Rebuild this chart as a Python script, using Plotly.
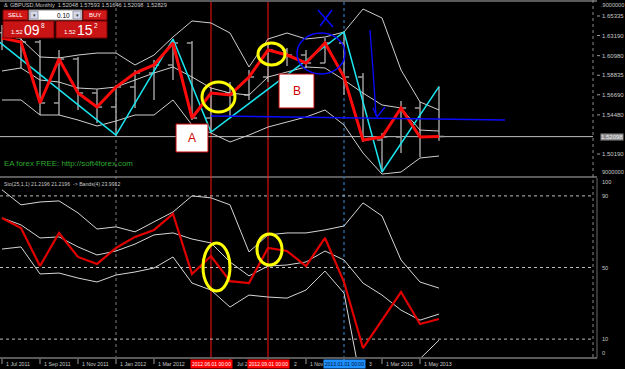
import plotly.graph_objects as go

W, H = 625, 369
def PX(x): return x / W
def PY(y): return 1 - y / H

# ---------------- data ----------------
months = ["Jul 2011", "Aug 2011", "Sep 2011", "Oct 2011", "Nov 2011", "Dec 2011",
          "Jan 2012", "Feb 2012", "Mar 2012", "Apr 2012", "May 2012", "Jun 2012",
          "Jul 2012", "Aug 2012", "Sep 2012", "Oct 2012", "Nov 2012", "Dec 2012",
          "Jan 2013", "Feb 2013", "Mar 2013", "Apr 2013", "May 2013", "Jun 2013"]
idx = list(range(len(months)))

bar_open = [1.6350, 1.6292, 1.6248, 1.5579, 1.6062, 1.5688, 1.5535, 1.5754, 1.5908, 1.5996,
            1.6237, 1.5414, 1.5688, 1.5666, 1.5864, 1.6160, 1.6105, 1.6018, 1.6237, 1.5864,
            1.5172, 1.5205, 1.5524, 1.52048]
bar_high = [1.6435, 1.6314, 1.6270, 1.6160, 1.6084, 1.5730, 1.5776, 1.5941, 1.6051, 1.6281,
            1.6259, 1.5743, 1.5809, 1.5941, 1.6215, 1.6182, 1.6160, 1.6292, 1.6358, 1.5908,
            1.5249, 1.5601, 1.5590, 1.57593]
bar_low = [1.6160, 1.5963, 1.5447, 1.5447, 1.5502, 1.5359, 1.5227, 1.5524, 1.5612, 1.5831,
           1.5392, 1.5260, 1.5425, 1.5612, 1.5809, 1.5985, 1.5963, 1.6018, 1.5666, 1.5150,
           1.4821, 1.5030, 1.4986, 1.51646]
bar_close = [1.6292, 1.6248, 1.5579, 1.6062, 1.5688, 1.5535, 1.5754, 1.5908, 1.5996, 1.6237,
             1.5414, 1.5688, 1.5666, 1.5864, 1.6160, 1.6105, 1.6018, 1.6237, 1.5864, 1.5172,
             1.5205, 1.5524, 1.52048, 1.52098]

band_up = [1.6402, 1.6281, 1.6084, 1.6073, 1.6105, 1.6127, 1.6127, 1.5996, 1.6105, 1.6303,
           1.6479, 1.6457, 1.6347, 1.5974, 1.6281, 1.6347, 1.6281, 1.6303, 1.6358, 1.6610,
           1.6512, 1.5941, 1.5590, 1.5502]
band_mid = [1.5930, 1.5963, 1.5831, 1.5809, 1.5743, 1.5732, 1.5754, 1.5831, 1.5908, 1.5974,
            1.5864, 1.5743, 1.5688, 1.5666, 1.5864, 1.5919, 1.5974, 1.5963, 1.5831, 1.5688,
            1.5557, 1.5524, 1.5282, 1.5271]
band_low = [1.5612, 1.5612, 1.5447, 1.5447, 1.5392, 1.5326, 1.5381, 1.5447, 1.5447, 1.5612,
            1.5337, 1.5249, 1.5151, 1.5227, 1.5315, 1.5370, 1.5425, 1.5502, 1.5337, 1.5030,
            1.4799, 1.4821, 1.4975, 1.4997]

zz_idx = [-1, 6, 9, 11, 18, 20, 23]
zz_val = [1.6391, 1.5227, 1.6281, 1.5260, 1.6358, 1.4821, 1.57593]

sto = [77.7, 72.1, 50.8, 69.3, 55.9, 52.0, 60.9, 67.1, 71.0, 79.9, 46.4, 56.4,
       42.4, 41.3, 60.9, 59.2, 50.8, 66.5, 41.9, 5.0, 20.6, 36.3, 18.4, 21.2196]
sto_up = [93.4, 85.0, 86.6, 87.2, 80.5, 71.5, 72.7, 69.9, 75.5, 81.0, 90.0, 88.9,
          85.0, 58.7, 68.2, 69.3, 69.3, 71.0, 73.2, 86.1, 78.8, 54.2, 41.9, 38.5]
sto_mid = [77.7, 73.8, 66.5, 67.1, 61.5, 57.0, 59.2, 63.1, 68.2, 69.3, 65.9, 63.7,
           53.1, 45.3, 50.8, 51.4, 53.1, 59.2, 54.2, 41.3, 34.6, 26.2, 20.6, 23.9912]
sto_low = [60.3, 61.5, 46.4, 46.9, 44.1, 41.9, 45.8, 47.5, 49.7, 55.9, 41.3, 37.4,
           27.9, 34.6, 33.5, 32.9, 37.4, 48.0, 35.7, -20.0, -15.0, -8.0, -1.0, 9.4]

price_labels = ["1.65335", "1.63190", "1.60980", "1.58835", "1.56690", "1.54480", "1.50190"]
price_ticks = [1.65335, 1.63190, 1.60980, 1.58835, 1.56690, 1.54480, 1.50190]
current_price = 1.52098
sto_levels = [90, 50, 10]
sto_labels = ["100", "90", "50", "10", "0"]
sto_label_vals = [100, 90, 50, 10, 0]

# date labels: fully visible ones, then the visible fragments of partly covered ones
date_tick_idx = [0, 2, 4, 6, 8, 12, 14, 16, 18, 20, 22]
date_full_idx = [0, 2, 4, 6, 8, 20, 22]
date_full_text = ["1 Jul 2011", "1 Sep 2011", "1 Nov 2011", "1 Jan 2012", "1 Mar 2012",
                  "1 Mar 2013", "1 May 2013"]
date_frag_idx = [12, 14, 16, 18]
date_frag_text = ["Jul 2", "2", "1 Nov", "3"]
date_frag_dx = [5.5, 24.5, 3, 24]
vline_idx = [11, 14, 18]
vline_text = ["2012.06.01 00:00", "2012.09.01 00:00", "2013.01.01 00:00"]

# ---------------- geometry ----------------
X0PX, X1PX = 0, 596
def ix2px(i): return 2 + 19 * i
xr = [(X0PX - 2) / 19, (X1PX - 2) / 19]
P_TOP, P_SLOPE = 1.65335, 911.2  # price at y=16, px per unit
def p2px(p): return 16 + (P_TOP - p) * P_SLOPE
yr_up = [P_TOP - (176 - 16) / P_SLOPE, P_TOP + 16 / P_SLOPE]
def s2px(v): return 357 - v * 1.79

FONT = "Liberation Sans"
fig = go.Figure()

# upper panel
for arr in (band_up, band_mid, band_low):
    fig.add_trace(go.Scatter(x=idx, y=arr, mode="lines", line=dict(color="#cfcfcf", width=1),
                             xaxis="x", yaxis="y", hoverinfo="skip", showlegend=False))
fig.add_trace(go.Ohlc(x=idx, open=bar_open, high=bar_high, low=bar_low, close=bar_close,
                      increasing=dict(line=dict(color="#9c9c9c", width=1.5)),
                      decreasing=dict(line=dict(color="#9c9c9c", width=1.5)),
                      tickwidth=0.27, xaxis="x", yaxis="y", hoverinfo="skip", showlegend=False))
fig.add_trace(go.Scatter(x=zz_idx, y=zz_val, mode="lines", line=dict(color="#19e6f0", width=1.5),
                         xaxis="x", yaxis="y", hoverinfo="skip", showlegend=False))
fig.add_trace(go.Scatter(x=idx, y=bar_close, mode="lines", line=dict(color="#ff0a0a", width=3),
                         xaxis="x", yaxis="y", hoverinfo="skip", showlegend=False))

# lower panel
for arr in (sto_up, sto_mid, sto_low):
    fig.add_trace(go.Scatter(x=idx, y=arr, mode="lines", line=dict(color="#d6d6d6", width=1),
                             xaxis="x2", yaxis="y2", hoverinfo="skip", showlegend=False))
fig.add_trace(go.Scatter(x=idx, y=sto, mode="lines", line=dict(color="#e00000", width=2.2),
                         xaxis="x2", yaxis="y2", hoverinfo="skip", showlegend=False))

shapes = []
def line_px(x0, y0, x1, y1, color, width=1, dash="solid", layer="above"):
    shapes.append(dict(type="line", xref="paper", yref="paper", x0=PX(x0), y0=PY(y0),
                       x1=PX(x1), y1=PY(y1), line=dict(color=color, width=width, dash=dash), layer=layer))
def rect_px(x0, y0, x1, y1, fill, color, width=1, layer="above"):
    shapes.append(dict(type="rect", xref="paper", yref="paper", x0=PX(x0), y0=PY(y0),
                       x1=PX(x1), y1=PY(y1), fillcolor=fill, line=dict(color=color, width=width), layer=layer))
def ell_px(x0, y0, x1, y1, color, width):
    shapes.append(dict(type="circle", xref="paper", yref="paper", x0=PX(x0), y0=PY(y0),
                       x1=PX(x1), y1=PY(y1), line=dict(color=color, width=width), layer="above"))

# frame lines
line_px(0, 1, 597, 1, "#5a5a5a", 2, layer="below")
line_px(0, 177, 597, 177, "#5a5a5a", 2, layer="below")
line_px(0, 358, 597, 358, "#5a5a5a", 2, layer="below")
line_px(593, 0, 593, 358, "#8a8a8a", 1, "dot", layer="below")
line_px(597, 178, 597, 358, "#6a6a6a", 1, layer="below")

# period separator and vertical objects
line_px(ix2px(6), 2, ix2px(6), 357, "#7a7a7a", 1, "dot", layer="below")
line_px(ix2px(18), 2, ix2px(18), 357, "#2a5c96", 1.5, "dot", layer="below")
line_px(ix2px(11), 2, ix2px(11), 357, "#ff1010", 1, layer="below")
line_px(ix2px(14), 2, ix2px(14), 357, "#ff1010", 1, layer="below")

# current price line
cp = p2px(current_price)
line_px(0, cp, 593, cp, "#bdbdbd", 1, layer="below")

# stochastic levels
for lv in sto_levels:
    line_px(0, s2px(lv), 593, s2px(lv), "#bdbdbd", 1, "dot", layer="below")

# drawings
line_px(ix2px(11), 116, 505, 120, "#0a0aff", 1.5)
ell_px(297, 33, 345, 74, "#0a0aff", 1.5)
line_px(318, 10, 333, 27, "#0a0aff", 1.5)
line_px(332, 10, 320, 26, "#0a0aff", 1.5)
line_px(370, 30, 373, 70, "#0a0aff", 1.3)
line_px(373, 70, 376, 116, "#0a0aff", 1.3)
line_px(373, 108, 377, 117, "#0a0aff", 1.3)
line_px(377, 117, 385, 107, "#0a0aff", 1.3)
ell_px(202, 82, 235, 112, "#ffff00", 3)
ell_px(258, 43, 285, 65, "#ffff00", 3)
ell_px(203, 243, 230, 291, "#ffff00", 3)
ell_px(257, 234, 282, 265, "#ffff00", 3)
rect_px(176, 124, 208, 152, "#ffffff", "#c00000", 1)
rect_px(279, 74, 314, 108, "#ffffff", "#c00000", 1)

# one-click trading panel
rect_px(3, 10, 28, 20, "#d01818", "#7a0000")
rect_px(29, 10, 82, 20, "#ffffff", "#8a8a8a")
rect_px(30, 11, 38, 19, "#d4d8e8", "#9a9aaa")
rect_px(73, 11, 81, 19, "#d4d8e8", "#9a9aaa")
rect_px(83, 10, 107, 20, "#d01818", "#7a0000")
rect_px(3, 21, 54, 38, "#c81414", "#7a0000")
rect_px(56, 21, 107, 38, "#c81414", "#7a0000")

# date ticks
for i in date_tick_idx:
    line_px(ix2px(i), 359, ix2px(i), 364, "#9a9a9a", 1)
# price ticks
for p in price_ticks:
    line_px(597, p2px(p), 600, p2px(p), "#9a9a9a", 1)

ann = []
def text_px(x, y, s, size=6, color="#c8c8c8", xanchor="left", bg=None, family=FONT, pad=0):
    d = dict(xref="paper", yref="paper", x=PX(x), y=PY(y), text=s, showarrow=False,
             xanchor=xanchor, yanchor="middle", font=dict(family=family, size=size, color=color),
             borderpad=pad)
    if bg:
        d["bgcolor"] = bg
    ann.append(d)

text_px(9, 5, "GBPUSD,Monthly  1.52048 1.57593 1.51646 1.52098  1.52829", 5.6, "#c8c8c8")
text_px(3, 5, "&", 5.6, "#c8c8c8")
text_px(15.5, 15, "SELL", 6, "#ffffff", "center")
text_px(34, 15, "▾", 5, "#333333", "center")
text_px(77, 15, "▾", 5, "#333333", "center")
text_px(71, 15, "0.10", 6.5, "#000000", "right")
text_px(95, 15, "BUY", 6, "#ffffff", "center")
text_px(17, 32, "1.52", 6, "#ffffff", "center")
text_px(32, 30, "09", 14, "#ffffff", "center")
text_px(43, 26, "8", 6.5, "#ffffff", "center")
text_px(70, 32, "1.52", 6, "#ffffff", "center")
text_px(85, 30, "15", 14, "#ffffff", "center")
text_px(96, 26, "2", 6.5, "#ffffff", "center")

text_px(192, 138, "A", 12, "#d00000", "center")
text_px(296.5, 91, "B", 12, "#d00000", "center")
text_px(3, 163, "EA forex FREE: http://soft4forex.com", 7.9, "#2fa82f")
text_px(3, 184, "Sto(25,1,1) 21.2196 21.2196  -> Bands(4) 23.9912", 5.2, "#c8c8c8")

# right axis
text_px(600, 5, ".9000000", 5.6)
for s, p in zip(price_labels, price_ticks):
    text_px(601, p2px(p), s, 6)
text_px(601, 172, "9000000", 5.6)
text_px(600, cp, "1.52098", 6, "#f0f0f0", bg="#8c8c8c")
for s, v in zip(sto_labels, sto_label_vals):
    yy = s2px(v)
    if v == 100:
        yy = 182
    if v == 0:
        yy = 353
    text_px(601, yy, s, 5.6)

# dates
for i, s in zip(date_full_idx, date_full_text):
    text_px(ix2px(i) + 3, 364, s, 5.3)
for i, s, dx in zip(date_frag_idx, date_frag_text, date_frag_dx):
    text_px(ix2px(i) + dx, 364, s, 5.0)
for i, s, col in zip(vline_idx, vline_text, ["#ff0000", "#ff0000", "#1e90ff"]):
    text_px(ix2px(i), 364, s, 5.0, "#ffffff" if col == "#ff0000" else "#001030", "center", bg=col, pad=1)

fig.update_layout(
    width=W, height=H, margin=dict(l=0, r=0, t=0, b=0),
    paper_bgcolor="#000000", plot_bgcolor="#000000", showlegend=False,
    xaxis=dict(domain=[0, X1PX / W], range=xr, visible=False, rangeslider=dict(visible=False), anchor="y"),
    yaxis=dict(domain=[PY(176), 1], range=yr_up, visible=False, anchor="x"),
    xaxis2=dict(domain=[0, X1PX / W], range=xr, visible=False, anchor="y2"),
    yaxis2=dict(domain=[PY(357), PY(178)], range=[0, 100], visible=False, anchor="x2"),
    shapes=shapes, annotations=ann,
)
fig.write_html("out.html")
